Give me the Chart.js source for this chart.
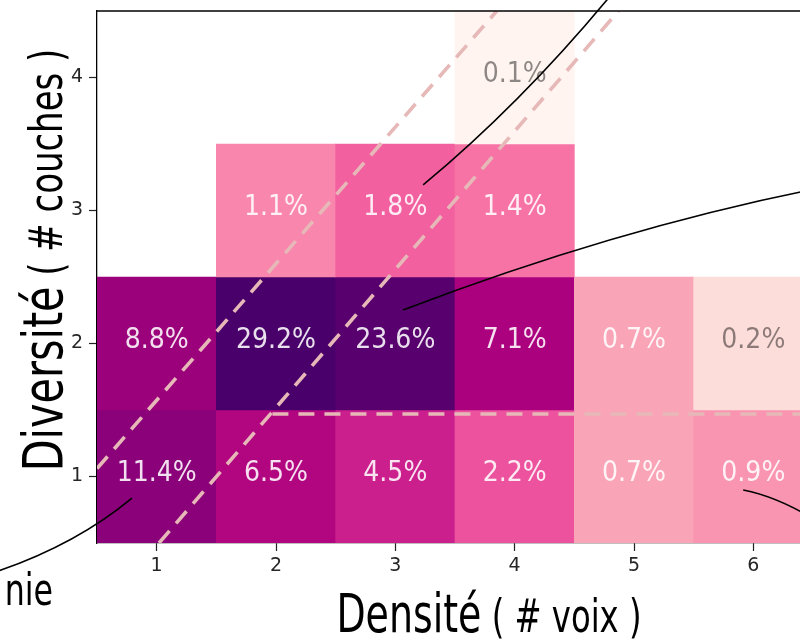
<!DOCTYPE html>
<html>
<head>
<meta charset="utf-8">
<script src="https://cdn.jsdelivr.net/npm/chart.js@4.4.1/dist/chart.umd.min.js"></script>
<style>
  html, body { margin: 0; padding: 0; background: #fff; }
  #wrap { width: 800px; height: 643px; overflow: hidden; }
  canvas { display: block; }
</style>
</head>
<body>
<div id="wrap"><canvas id="heat" width="816" height="643"></canvas></div>
<script>
// one entry per cell: densité (# voix), diversité (# couches), share in %
const densite   = [1, 2, 3, 4, 5, 6, 1, 2, 3, 4, 5, 6, 2, 3, 4, 4];
const diversite = [1, 1, 1, 1, 1, 1, 2, 2, 2, 2, 2, 2, 3, 3, 3, 4];
const parts     = [11.4, 6.5, 4.5, 2.2, 0.7, 0.9, 8.8, 29.2, 23.6, 7.1, 0.7, 0.2, 1.1, 1.8, 1.4, 0.1];

const xTicks = [1, 2, 3, 4, 5, 6];
const yTicks = [1, 2, 3, 4];

const xTitle = ['Densité', ' ( # voix )'];
const yTitle = ['Diversité', ' ( # couches )'];

// dashed guides, in data units
const guideLeft  = [{x: 0.5, y: 1.06}, {x: 3.85, y: 4.5}];
const guideRight = [{x: 1.02, y: 0.5}, {x: 4.87, y: 4.5}];
const guideFlat  = [{x: 1.97, y: 1.47}, {x: 6.5, y: 1.47}];

// leader lines of the annotations: start, control, end (data units)
const leaders = [
    [[3.233, 3.192], [4.079, 3.823], [4.842, 4.658]],
    [[3.065, 2.252], [4.817, 2.853], [6.493, 3.158]],
    [[0.793, 0.838], [0.328, 0.492], [-0.33, 0.289]],
    [[5.915, 0.899], [6.183, 0.853], [6.493, 0.688]]
];

// matplotlib RdPu, log scaled
const RdPu = ['#fff7f3', '#fde0dd', '#fcc5c0', '#fa9fb5', '#f768a1', '#dd3497', '#ae017e', '#7a0177', '#49006a'];
const vmin = 0.09, vmax = 29.2;

function level(v) {
    const t = Math.log(v / vmin) / Math.log(vmax / vmin);
    return Math.min(1, Math.max(0, t));
}

function hexRgb(h) {
    return [1, 3, 5].map(i => parseInt(h.substr(i, 2), 16));
}

function cellColor(v) {
    const t = level(v) * (RdPu.length - 1);
    const i = Math.min(Math.floor(t), RdPu.length - 2);
    const f = t - i;
    const a = hexRgb(RdPu[i]), b = hexRgb(RdPu[i + 1]);
    const c = a.map((va, k) => Math.round(va + (b[k] - va) * f));
    return `rgb(${c[0]},${c[1]},${c[2]})`;
}

const cells = densite.map((d, i) => ({x: d, y: [diversite[i] - 0.5, diversite[i] + 0.5]}));

const cond = '"DejaVu Sans Condensed", "DejaVu Sans", sans-serif';
const tickFont = {family: 'DejaVu Sans', size: 19};

// two-part title, squeezed horizontally, centred on 0
function drawTitle(ctx, parts2, sizes, squeeze) {
    ctx.font = sizes[0] + 'px ' + cond;
    const w1 = ctx.measureText(parts2[0]).width;
    ctx.font = sizes[1] + 'px ' + cond;
    const w2 = ctx.measureText(parts2[1]).width;
    ctx.scale(squeeze, 1);
    const x0 = -(w1 + w2) / 2;
    ctx.font = sizes[0] + 'px ' + cond;
    ctx.fillText(parts2[0], x0, 0);
    ctx.font = sizes[1] + 'px ' + cond;
    ctx.fillText(parts2[1], x0 + w1, 0);
}

const cellLabels = {
    id: 'cellLabels',
    afterDatasetsDraw(chart) {
        const {ctx, scales: {x, y}} = chart;
        ctx.save();
        ctx.font = '28px ' + cond;
        ctx.textAlign = 'center';
        ctx.textBaseline = 'middle';
        parts.forEach((v, i) => {
            ctx.fillStyle = level(v) > 0.25 ? 'rgba(255,255,255,0.88)' : 'rgba(0,0,0,0.45)';
            ctx.fillText(v.toFixed(1) + '%', x.getPixelForValue(densite[i]), y.getPixelForValue(diversite[i]) - 3);
        });
        ctx.restore();
    }
};

const decorations = {
    id: 'decorations',
    afterDraw(chart) {
        const {ctx, chartArea: a, scales: {x, y}} = chart;
        ctx.save();

        // top spine
        ctx.strokeStyle = '#000';
        ctx.lineWidth = 1.3;
        ctx.beginPath();
        ctx.moveTo(a.left, a.top);
        ctx.lineTo(a.right, a.top);
        ctx.stroke();

        // leader lines
        ctx.lineWidth = 1.6;
        leaders.forEach(([s, c, e]) => {
            ctx.beginPath();
            ctx.moveTo(x.getPixelForValue(s[0]), y.getPixelForValue(s[1]));
            ctx.quadraticCurveTo(x.getPixelForValue(c[0]), y.getPixelForValue(c[1]),
                                 x.getPixelForValue(e[0]), y.getPixelForValue(e[1]));
            ctx.stroke();
        });

        ctx.fillStyle = '#000';
        ctx.textBaseline = 'alphabetic';
        ctx.textAlign = 'left';

        // cut annotation text at bottom left
        ctx.save();
        ctx.translate(a.left - 44, a.bottom + 62);
        ctx.scale(0.8, 1);
        ctx.font = '44px ' + cond;
        ctx.textAlign = 'right';
        ctx.fillText('nie', 0, 0);
        ctx.restore();

        // axis titles
        ctx.save();
        ctx.translate(a.left + 392, a.bottom + 89);
        drawTitle(ctx, xTitle, [54, 46], 0.78);
        ctx.restore();

        ctx.save();
        ctx.translate(a.left - 35, a.top + 249);
        ctx.rotate(-Math.PI / 2);
        drawTitle(ctx, yTitle, [56, 46], 0.82);
        ctx.restore();

        ctx.restore();
    }
};

const guideStyle = {
    type: 'line',
    borderColor: '#e6b8b8',
    borderWidth: 3.6,
    borderDash: [16, 10],
    pointRadius: 0,
    fill: false,
    order: 1
};

new Chart(document.getElementById('heat'), {
    type: 'bar',
    data: {
        datasets: [
            {
                data: cells,
                backgroundColor: c => cellColor(parts[c.dataIndex]),
                borderWidth: 0,
                barPercentage: 1,
                categoryPercentage: 1,
                order: 2
            },
            Object.assign({data: guideLeft}, guideStyle),
            Object.assign({data: guideRight}, guideStyle),
            Object.assign({data: guideFlat}, guideStyle)
        ]
    },
    options: {
        responsive: false,
        animation: false,
        layout: {padding: {left: 0, top: 11, right: 3, bottom: 0}},
        plugins: {legend: {display: false}, tooltip: {enabled: false}},
        scales: {
            x: {
                type: 'linear',
                min: 0.5,
                max: 6.5,
                offset: false,
                afterBuildTicks: s => { s.ticks = xTicks.map(v => ({value: v})); },
                afterFit: s => { s.height = 100; s.paddingLeft = 0; s.paddingRight = 0; },
                grid: {display: true, offset: false, drawOnChartArea: false, drawTicks: true, tickLength: 8, tickColor: '#222', tickWidth: 1.2},
                border: {display: true, color: '#000', width: 1.3},
                ticks: {font: tickFont, color: '#262626', padding: 4, maxRotation: 0}
            },
            y: {
                type: 'linear',
                min: 0.5,
                max: 4.5,
                afterBuildTicks: s => { s.ticks = yTicks.map(v => ({value: v})); },
                afterFit: s => { s.width = 97; s.paddingTop = 0; s.paddingBottom = 0; },
                grid: {display: true, drawOnChartArea: false, drawTicks: true, tickLength: 8, tickColor: '#222', tickWidth: 1.2},
                border: {display: true, color: '#000', width: 1.3},
                ticks: {font: tickFont, color: '#262626', padding: 6}
            }
        }
    },
    plugins: [cellLabels, decorations]
});
</script>
</body>
</html>
